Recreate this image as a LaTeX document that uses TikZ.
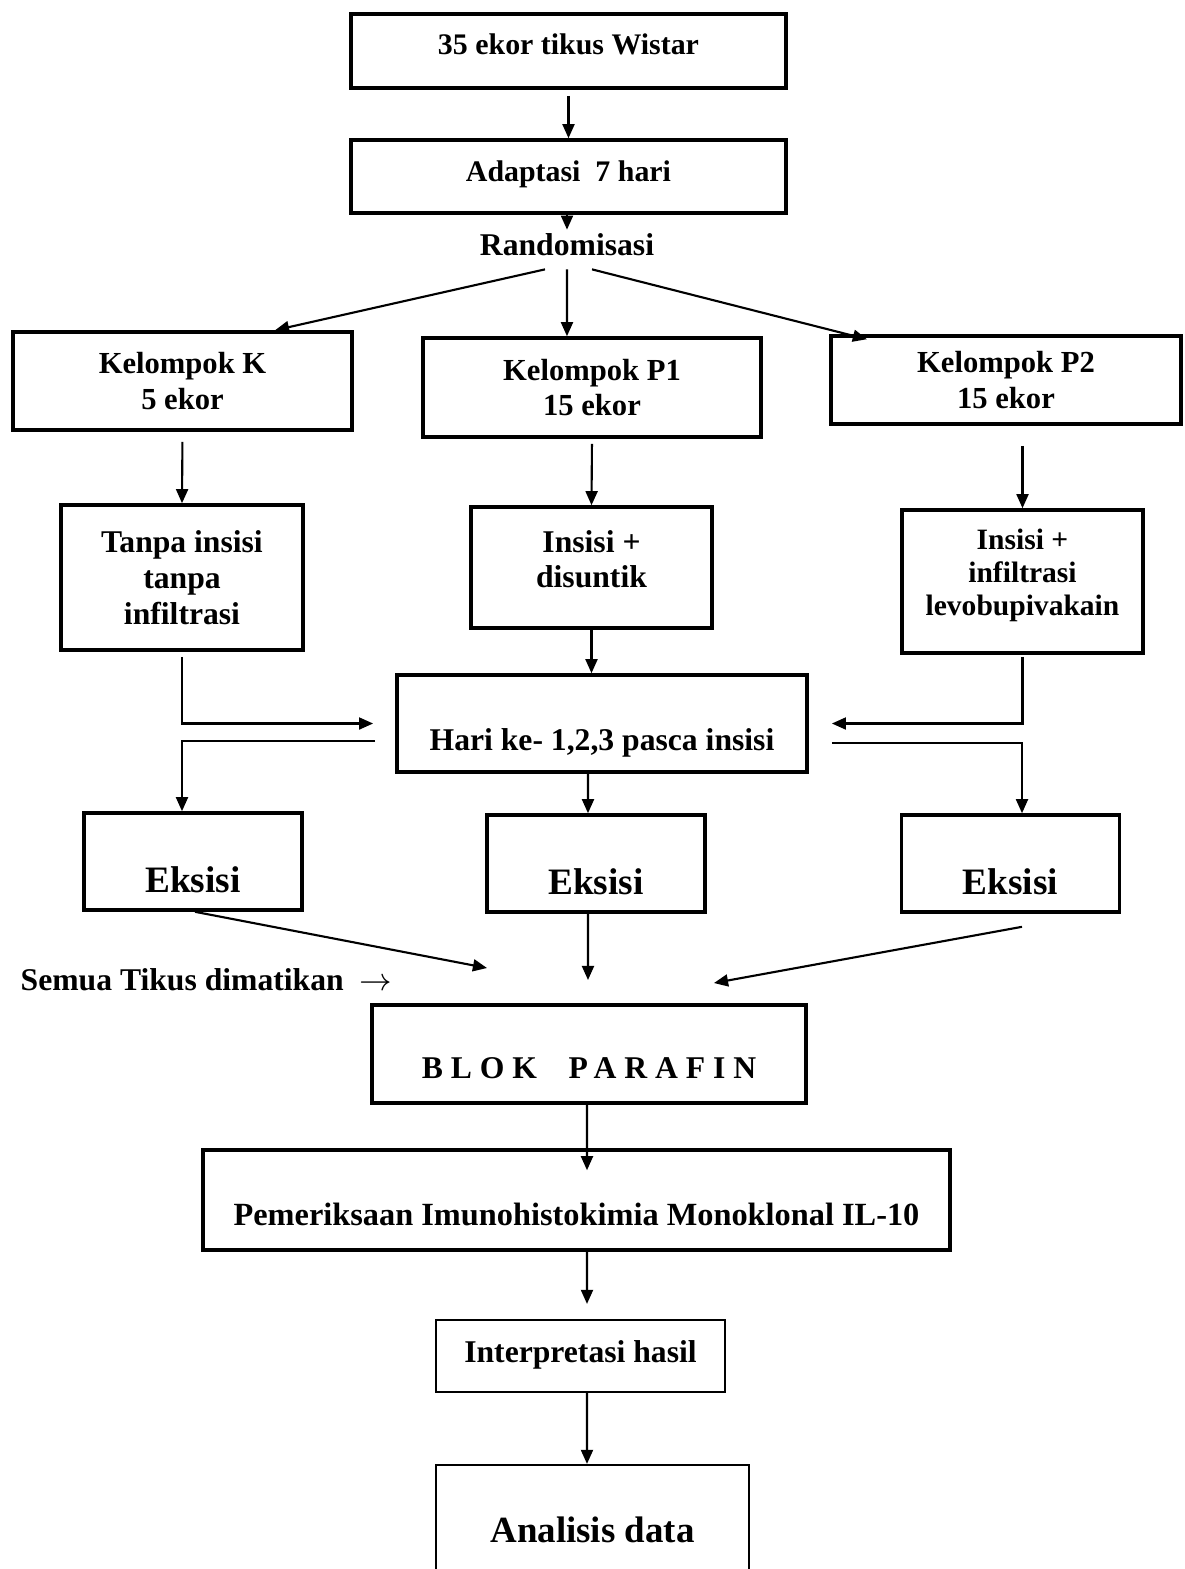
\documentclass[tikz,border=0pt]{standalone}
\usepackage{fontspec}
\setmainfont{Liberation Serif}
\usetikzlibrary{arrows.meta}

\begin{document}
\begin{tikzpicture}[x=0.01cm,y=-0.01cm,>={Triangle[length=4pt,width=3.4pt]},
  box/.style={draw,line width=1pt,inner sep=0pt,align=center,font=\bfseries\fontsize{8.7}{10.2}\selectfont},
  thinbox/.style={box,line width=0.6pt},
  eks/.style={box,minimum width=21.8mm,minimum height=9.7mm,txtht=17.5pt,font=\bfseries\fontsize{10.6}{12}\selectfont},
  arr/.style={->,line width=0.6pt},
  txtht/.style={text height=#1,text depth=0pt}]
\useasboundingbox (0,0) rectangle (1184,1569);
\fill[white] (0,0) rectangle (1184,1569);
\clip (0,0) rectangle (1184,1569);
\node[box,minimum width=43.5mm,minimum height=7.4mm,txtht=2.2pt,font=\bfseries\fontsize{8.5}{10}\selectfont] (wistar) at (568.5,51) {35 ekor tikus Wistar};
\node[box,minimum width=43.5mm,minimum height=7.3mm,txtht=3pt,font=\bfseries\fontsize{8.5}{10}\selectfont] (adapt) at (568.5,176.5) {Adaptasi\ \ 7 hari};
\node[font=\bfseries\fontsize{9}{11}\selectfont,inner sep=1pt] (rand) at (567,245) {Randomisasi};
\node[box,minimum width=33.9mm,minimum height=9.8mm] (kelK) at (182.5,381) {Kelompok K\\5 ekor};
\node[box,minimum width=33.8mm,minimum height=9.9mm] (kelP1) at (592,387.5) {Kelompok P1\\15 ekor};
\node[box,minimum width=35mm,minimum height=8.8mm] (kelP2) at (1006,380) {Kelompok P2\\15 ekor};
\node[box,minimum width=24.2mm,minimum height=14.5mm,font=\bfseries\fontsize{9}{10.2}\selectfont] (tanpa) at (182,577.5) {Tanpa insisi\\tanpa\\infiltrasi};
\node[box,minimum width=24.1mm,minimum height=12.1mm,text depth=4.6pt,font=\bfseries\fontsize{9}{10}\selectfont] (insP1) at (591.5,567.5) {Insisi +\\disuntik};
\node[box,minimum width=24.1mm,minimum height=14.3mm,text depth=5.3pt,font=\bfseries\fontsize{8.4}{9.5}\selectfont] (insP2) at (1022.5,581.5) {Insisi +\\infiltrasi\\levobupivakain};
\node[box,minimum width=41mm,minimum height=9.7mm,txtht=15.4pt,font=\bfseries\fontsize{9}{11}\selectfont] (hari) at (602,723.5) {Hari ke- 1,2,3 pasca insisi};
\node[eks] (eksK) at (193,861.5) {Eksisi};
\node[eks] (eksP1) at (596,863.5) {Eksisi};
\node[eks] (eksP2) at (1010.5,863.5) {Eksisi};
\node[font=\bfseries\fontsize{9}{11}\selectfont,anchor=west,inner sep=0pt] (semua) at (20,980) {Semua Tikus dimatikan\ \ $\rightarrow$};
\node[box,minimum width=43.4mm,minimum height=9.8mm,txtht=14pt,font=\bfseries\fontsize{9}{11}\selectfont] (blok) at (589,1054) {\addfontfeature{LetterSpace=25}BLOK\hspace{9pt}PARAFIN};
\node[box,minimum width=74.7mm,minimum height=10mm,txtht=14.6pt,font=\bfseries\fontsize{9.2}{11}\selectfont] (periksa) at (576.5,1200) {Pemeriksaan Imunohistokimia Monoklonal IL-10};
\node[thinbox,minimum width=28.9mm,minimum height=7.2mm,txtht=3.7pt,font=\bfseries\fontsize{9}{11}\selectfont] (interp) at (580.5,1356) {Interpretasi hasil};
\node[thinbox,minimum width=31.3mm,minimum height=13mm,font=\bfseries\fontsize{10.5}{12}\selectfont] (analisis) at (592.5,1530) {Analisis data};
\coordinate (inL) at (487,968);
\coordinate (inM) at (588,980);
\coordinate (inR) at (714,983);
\draw[arr,shorten <=0.6mm] (wistar.south) -- (adapt.north);
\draw[arr] (adapt.south -| rand) -- (rand.north);
\draw[arr] ([xshift=-2.2mm,yshift=-0.9mm]rand.south) -- ([xshift=9.25mm]kelK.north);
\draw[arr] ([yshift=-0.9mm]rand.south) -- ([xshift=-2.5mm]kelP1.north);
\draw[arr] ([xshift=2.5mm,yshift=-0.9mm]rand.south) -- ([xshift=-13.9mm,yshift=-0.5mm]kelP2.north);
\draw[arr,shorten <=1mm] (kelK.south) -- (tanpa.north);
\draw[arr,shorten <=0.5mm] (kelP1.south) -- (insP1.north);
\draw[arr,shorten <=2mm] (insP2.north |- kelP2.south) -- (insP2.north);
\draw[arr] (insP1.south) -- (insP1.south |- hari.north);
\draw[arr,shorten <=0.5mm] (tanpa.south) |- ([xshift=-2.2mm]hari.west);
\draw[arr] ([xshift=-2mm,yshift=-1.75mm]hari.west) -| ([xshift=-1.1mm]eksK.north);
\draw[arr,shorten <=0.2mm] (insP2.south) |- ([xshift=2.3mm]hari.east);
\draw[arr] ([xshift=2.3mm,yshift=-1.95mm]hari.east) -| ([xshift=1.15mm]eksP2.north);
\draw[arr] ([xshift=-1.4mm]hari.south) -- ([xshift=-0.8mm]eksP1.north);
\draw[arr] ([xshift=0.2mm]eksK.south) -- (inL);
\draw[arr] ([xshift=-0.8mm]eksP1.south) -- (inM);
\draw[arr] ([xshift=1.15mm,yshift=-1.3mm]eksP2.south) -- (inR);
\draw[arr] ([xshift=-0.2mm]blok.south) -- ([xshift=1.05mm,yshift=-2.2mm]periksa.north);
\draw[arr] ([xshift=1.05mm]periksa.south) -- ([xshift=0.65mm,yshift=1.5mm]interp.north);
\draw[arr] ([xshift=0.65mm]interp.south) -- ([xshift=-0.55mm]analisis.north);
\end{tikzpicture}
\end{document}
